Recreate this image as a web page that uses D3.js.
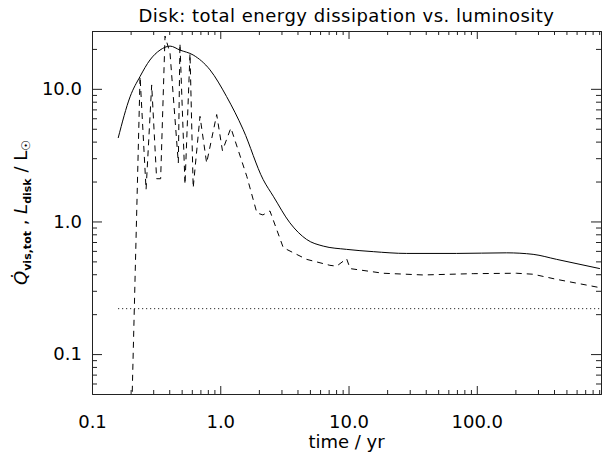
<!DOCTYPE html>
<html>
<head>
<meta charset="utf-8">
<script src="https://cdn.jsdelivr.net/npm/d3@7"></script>
<style>
    body { margin: 0; background: #fff; }
    text { font-family: "DejaVu Sans", sans-serif; fill: #000; }
</style>
</head>
<body>
<div id="chart"></div>
<script>
// total viscous dissipation (dashed)
const qTime = [0.201, 0.237, 0.264, 0.292, 0.319, 0.343, 0.371, 0.406, 0.471, 0.485, 0.531, 0.581, 0.615,
    0.695, 0.783, 0.938, 1.04, 1.21, 1.61, 1.93, 2.15, 2.44, 3.10, 4.71, 7.16, 8.07, 9.66, 10.3,
    18.6, 38.2, 93.7, 204, 275, 419, 912];
const qValue = [0.02, 12.4, 1.74, 10.7, 2.1, 2.1, 25, 18.5, 2.76, 22, 1.9, 18.5, 1.79,
    6.2, 2.76, 6.4, 3.42, 5.07, 2.19, 1.16, 1.12, 1.2, 0.634, 0.518, 0.467, 0.46, 0.524, 0.441,
    0.407, 0.395, 0.404, 0.407, 0.4, 0.366, 0.317];

// disk luminosity (solid)
const lTime = [0.16, 0.198, 0.237, 0.283, 0.339, 0.406, 0.485, 0.615, 0.832, 1.12, 1.51, 2.16, 2.59,
    3.49, 4.71, 6.35, 9.66, 15.6, 28.4, 69.5, 171, 275, 419, 912];
const lValue = [4.26, 8.7, 12.4, 16.5, 19.6, 21.0, 19.6, 18.0, 13.9, 8.75, 4.92, 2.07, 1.55,
    0.977, 0.732, 0.652, 0.616, 0.592, 0.574, 0.574, 0.58, 0.565, 0.518, 0.441];

// reference level (dotted)
const refTime = [0.16, 930];
const refValue = [0.22, 0.22];

const xMajor = [0.1, 1, 10, 100];
const xLabels = ["0.1", "1.0", "10.0", "100.0"];
const yMajor = [0.1, 1, 10];
const yLabels = ["0.1", "1.0", "10.0"];

const width = 602, height = 454;
const margin = {top: 31, right: 1, bottom: 60, left: 92};
const innerW = width - margin.left - margin.right;
const innerH = height - margin.top - margin.bottom;

let x = d3.scaleLog().domain([0.1, 930]).range([0, innerW]);
let y = d3.scaleLog().domain([0.05, 27.3]).range([innerH, 0]);

function minorTicks(domain) {
    let out = [];
    for (let e = -3; e <= 4; e++) {
        for (let m = 2; m <= 9; m++) {
            let v = m * Math.pow(10, e);
            if (v > domain[0] * 1.0001 && v < domain[1]) out.push(v);
        }
    }
    return out;
}

let svg = d3.select("#chart").append("svg")
    .attr("width", width)
    .attr("height", height);

let g = svg.append("g")
    .attr("transform", "translate(" + margin.left + "," + margin.top + ")");

svg.append("defs").append("clipPath").attr("id", "plotClip")
    .append("rect").attr("width", innerW).attr("height", innerH);

function styleAxis(sel) {
    sel.selectAll("path").attr("stroke", "#222").attr("stroke-width", 1);
    sel.selectAll("line").attr("stroke", "#222").attr("stroke-width", 1);
    sel.selectAll("text").style("font-family", "DejaVu Sans, sans-serif").attr("font-size", 18).attr("fill", "#000");
}

// bottom axis with labels
g.append("g")
    .attr("transform", "translate(0," + innerH + ")")
    .call(d3.axisBottom(x).tickValues(xMajor).tickSize(-8).tickSizeOuter(0).tickPadding(21)
        .tickFormat((d, i) => xLabels[i]))
    .call(styleAxis);
g.append("g")
    .attr("transform", "translate(0," + innerH + ")")
    .call(d3.axisBottom(x).tickValues(minorTicks(x.domain())).tickSize(-4).tickSizeOuter(0).tickFormat(""))
    .call(styleAxis);

// top axis, ticks only
g.append("g")
    .call(d3.axisTop(x).tickValues(xMajor).tickSize(-8).tickSizeOuter(0).tickFormat(""))
    .call(styleAxis);
g.append("g")
    .call(d3.axisTop(x).tickValues(minorTicks(x.domain())).tickSize(-4).tickSizeOuter(0).tickFormat(""))
    .call(styleAxis);

// left axis with labels
g.append("g")
    .call(d3.axisLeft(y).tickValues(yMajor).tickSize(-10).tickSizeOuter(0).tickPadding(10)
        .tickFormat((d, i) => yLabels[i]))
    .call(styleAxis);
g.append("g")
    .call(d3.axisLeft(y).tickValues(minorTicks(y.domain())).tickSize(-5).tickSizeOuter(0).tickFormat(""))
    .call(styleAxis);

// right axis, ticks only
g.append("g")
    .attr("transform", "translate(" + innerW + ",0)")
    .call(d3.axisRight(y).tickValues(yMajor).tickSize(-10).tickSizeOuter(0).tickFormat(""))
    .call(styleAxis);
g.append("g")
    .attr("transform", "translate(" + innerW + ",0)")
    .call(d3.axisRight(y).tickValues(minorTicks(y.domain())).tickSize(-5).tickSizeOuter(0).tickFormat(""))
    .call(styleAxis);

let plot = g.append("g").attr("clip-path", "url(#plotClip)");

function series(times, values) {
    return times.map((t, i) => ({t: t, v: values[i]}));
}

plot.append("path")
    .datum(series(lTime, lValue))
    .attr("fill", "none")
    .attr("stroke", "#000")
    .attr("stroke-width", 1)
    .attr("d", d3.line().curve(d3.curveMonotoneX).x(d => x(d.t)).y(d => y(d.v)));

plot.append("path")
    .datum(series(qTime, qValue))
    .attr("fill", "none")
    .attr("stroke", "#000")
    .attr("stroke-width", 1)
    .attr("stroke-dasharray", "6,5")
    .attr("d", d3.line().x(d => x(d.t)).y(d => y(d.v)));

plot.append("path")
    .datum(series(refTime, refValue))
    .attr("fill", "none")
    .attr("stroke", "#000")
    .attr("stroke-width", 1)
    .attr("stroke-dasharray", "1,3")
    .attr("d", d3.line().x(d => x(d.t)).y(d => y(d.v)));

// title
svg.append("text")
    .attr("x", margin.left + innerW / 2)
    .attr("y", 22)
    .attr("text-anchor", "middle")
    .attr("font-size", 18)
    .attr("letter-spacing", 0.5)
    .text("Disk: total energy dissipation vs. luminosity");

// x label
svg.append("text")
    .attr("x", margin.left + innerW / 2)
    .attr("y", 448)
    .attr("text-anchor", "middle")
    .attr("font-size", 18)
    .text("time / yr");

// y label
let yl = svg.append("text")
    .attr("transform", "translate(27," + (margin.top + innerH / 2) + ") rotate(-90)")
    .attr("text-anchor", "middle")
    .attr("font-size", 18);
yl.append("tspan").attr("font-style", "italic").text("Q\u0307");
yl.append("tspan").attr("font-size", 11).attr("font-weight", "bold").attr("dy", 4).text("vis,tot");
yl.append("tspan").attr("dy", -4).text(" , ");
yl.append("tspan").attr("font-style", "italic").text("L");
yl.append("tspan").attr("font-size", 11).attr("font-weight", "bold").attr("dy", 4).text("disk");
yl.append("tspan").attr("dy", -4).text(" / L");
yl.append("tspan").attr("font-size", 12).attr("dy", 3).text("\u2609");
</script>
</body>
</html>
